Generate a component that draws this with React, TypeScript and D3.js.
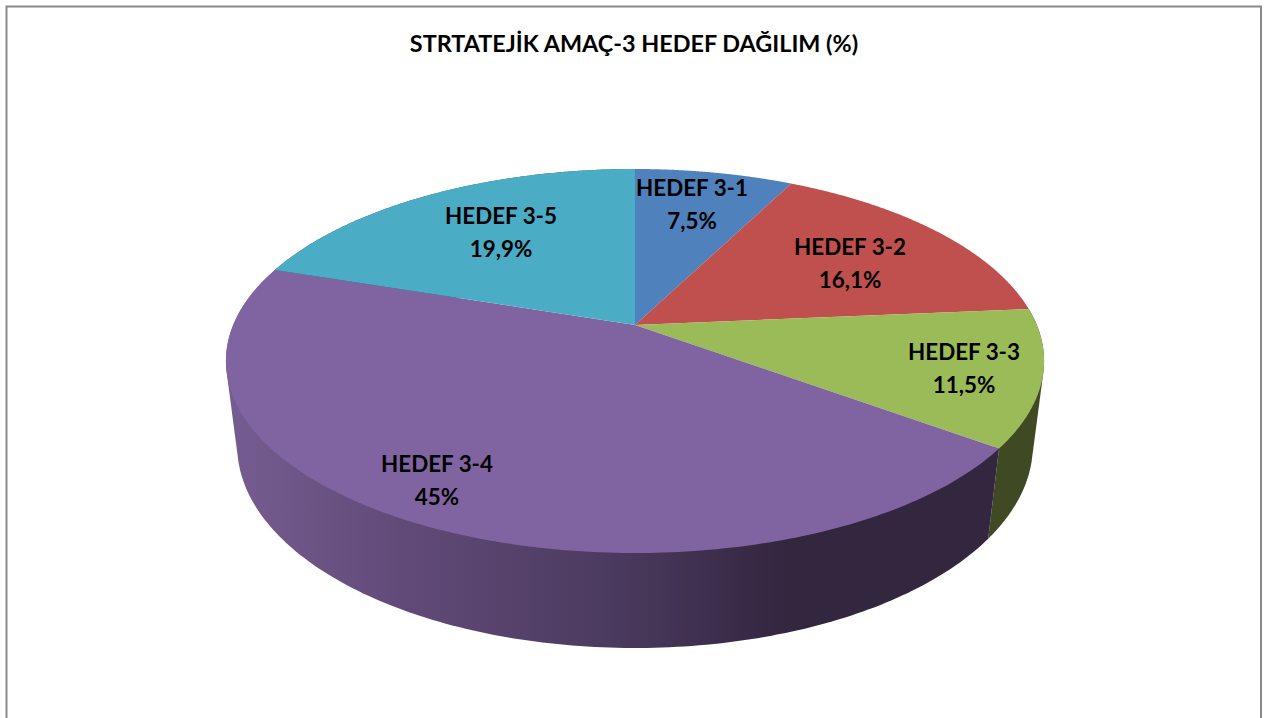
import React from "react";
import * as d3 from "d3";

const chartTitle = "STRTATEJİK AMAÇ-3 HEDEF DAĞILIM (%)";
const categories = ["HEDEF 3-1", "HEDEF 3-2", "HEDEF 3-3", "HEDEF 3-4", "HEDEF 3-5"];
const values = [7.5, 16.1, 11.5, 45, 19.9];
const valueLabels = ["7,5%", "16,1%", "11,5%", "45%", "19,9%"];

// styling and layout, separate from the data
const topColors = ["#4f81bd", "#c0504d", "#9bbb59", "#8064a2", "#4bacc6"];
const sideColors = ["#2b4566", "#682b2a", "#3f4a25", "url(#purpleSide)", "#285d6c"];
const labelCentres: [number, number][] = [
  [692, 205],
  [850, 264],
  [964, 369],
  [437, 481],
  [501, 233],
];
const W = 1265;
const H = 718;
const cx = 635;
const cy = 325;
// camera model of the tilted disc
const A = 401.8;
const B = 185.25;
const K = 0.1875;
const E = 0.0273; // extra perspective of the lower face
const D = 86; // depth of the extrusion

const FONT = "Lato, 'Open Sans', sans-serif";

const project = (theta: number, lower: boolean): [number, number] => {
  const u = Math.sin(theta);
  const v = -Math.cos(theta);
  const w = 1 - K * v + (lower ? E : 0);
  return [cx + (A * u) / w, cy + (B * v + (lower ? D : 0)) / w];
};

const rim = (a0: number, a1: number, lower: boolean): [number, number][] =>
  d3.range(0, 181).map((i) => project(a0 + ((a1 - a0) * i) / 180, lower));

const line = d3.line<[number, number]>();

export default function App() {
  const arcs = d3
    .pie<number>()
    .sort(null)
    .startAngle(0)
    .endAngle(2 * Math.PI)(values);

  const topPath = (a0: number, a1: number) =>
    line([[cx, cy], ...rim(a0, a1, false)]) + "Z";
  // wall = convex hull of the upper and lower arcs, giving straight silhouette edges
  const sidePath = (a0: number, a1: number) =>
    line(d3.polygonHull([...rim(a0, a1, false), ...rim(a0, a1, true)]) as [number, number][]) + "Z";

  // only the slices that face the viewer show a wall
  const visibleWalls = arcs
    .map((a, i) => ({ a, i }))
    .filter(({ a }) => a.endAngle > Math.PI / 2 + 0.01 && a.startAngle < (3 * Math.PI) / 2 + 0.5);

  return (
    <svg
      width={W}
      height={H}
      viewBox={`0 0 ${W} ${H}`}
      style={{ position: "absolute", left: 0, top: 0, display: "block" }}
    >
      <defs>
        <linearGradient id="purpleSide" gradientUnits="userSpaceOnUse" x1={237} x2={990} y1={0} y2={0}>
          <stop offset="0" stopColor="#755c90" />
          <stop offset="0.22" stopColor="#614a78" />
          <stop offset="0.5" stopColor="#4b3a5f" />
          <stop offset="0.73" stopColor="#33263f" />
          <stop offset="1" stopColor="#33263f" />
        </linearGradient>
      </defs>
      <rect x={0} y={0} width={W} height={H} fill="#ffffff" />
      <path d={`M6.5 ${H}V6.5H1261V${H}`} fill="none" stroke="#8a8a8a" strokeWidth={2} />
      <text
        x={634}
        y={52}
        textAnchor="middle"
        fontFamily={FONT}
        fontWeight={700}
        fontSize={23.4}
        fill="#000"
      >
        {chartTitle}
      </text>
      {visibleWalls.map(({ a, i }) => (
        <path key={i} d={sidePath(a.startAngle, a.endAngle)} fill={sideColors[i]} />
      ))}
      {arcs.map((a, i) => (
        <path key={i} d={topPath(a.startAngle, a.endAngle)} fill={topColors[i]} />
      ))}
      {categories.map((c, i) => (
        <text
          key={c}
          textAnchor="middle"
          fontFamily={FONT}
          fontWeight={700}
          fontSize={22.4}
          fill="#000"
        >
          <tspan x={labelCentres[i][0]} y={labelCentres[i][1] - 9}>{c}</tspan>
          <tspan x={labelCentres[i][0]} y={labelCentres[i][1] + 24}>{valueLabels[i]}</tspan>
        </text>
      ))}
    </svg>
  );
}
